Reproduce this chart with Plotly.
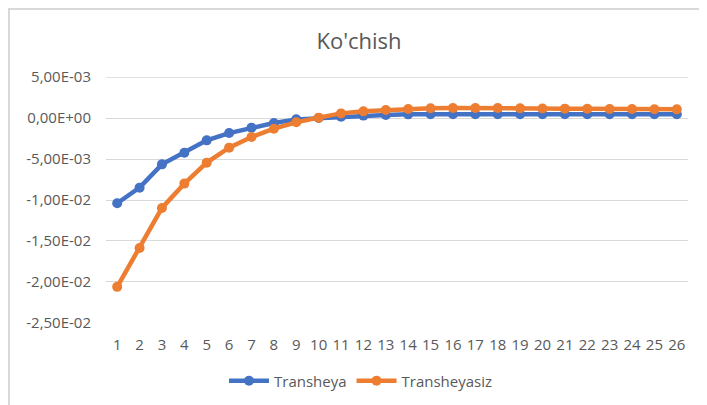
import plotly.graph_objects as go

categories = list(range(1, 27))
transheya = [-10.4e-3, -8.49e-3, -5.65e-3, -4.23e-3, -2.72e-3, -1.83e-3, -1.17e-3,
             -0.61e-3, -0.16e-3, 0.0, 0.17e-3, 0.30e-3, 0.37e-3, 0.45e-3, 0.46e-3,
             0.47e-3, 0.47e-3, 0.47e-3, 0.47e-3, 0.46e-3, 0.46e-3, 0.46e-3, 0.46e-3,
             0.46e-3, 0.46e-3, 0.46e-3]
transheyasiz = [-20.6e-3, -15.85e-3, -10.97e-3, -8.0e-3, -5.44e-3, -3.61e-3, -2.32e-3,
                -1.30e-3, -0.52e-3, 0.05e-3, 0.57e-3, 0.82e-3, 0.98e-3, 1.10e-3, 1.20e-3,
                1.22e-3, 1.23e-3, 1.22e-3, 1.20e-3, 1.17e-3, 1.15e-3, 1.13e-3, 1.11e-3,
                1.10e-3, 1.08e-3, 1.06e-3]
y_tickvals = [5e-3, 0.0, -5e-3, -1e-2, -1.5e-2, -2e-2, -2.5e-2]
y_ticktext = ["5,00E-03", "0,00E+00", "-5,00E-03", "-1,00E-02", "-1,50E-02", "-2,00E-02", "-2,50E-02"]

FONT = "Open Sans"
GREY = "#595959"
GRID = "#D9D9D9"
W, H = 707, 405
OFF = 8  # page body margin offset
# desired page-pixel plot box: left 106, right 688, top 77, bottom 323
L = 106 - OFF
T = 77 - OFF
R = W - (688 - OFF)
B = H - (323 - OFF)
pw, ph = W - L - R, H - T - B

def px_x(x):  # page px -> paper x
    return (x - OFF - L) / pw

def px_y(y):  # page px -> paper y
    return (H - B - (y - OFF)) / ph

fig = go.Figure()
fig.add_trace(go.Scatter(x=categories, y=transheya, name="Transheya", mode="lines+markers",
                         line=dict(color="#4472C4", width=4.5),
                         marker=dict(color="#4472C4", size=10)))
fig.add_trace(go.Scatter(x=categories, y=transheyasiz, name="Transheyasiz", mode="lines+markers",
                         line=dict(color="#ED7D31", width=4.5),
                         marker=dict(color="#ED7D31", size=10)))

fig.update_layout(
    width=W, height=H,
    margin=dict(l=L, r=R, t=T, b=B),
    paper_bgcolor="white", plot_bgcolor="white",
    font=dict(family=FONT, color=GREY, size=15),
    title=dict(text="Ko'chish", x=px_x(359), xref="paper", xanchor="center",
               y=1 - (41 - OFF) / H, yanchor="middle", font=dict(size=22, color=GREY, family=FONT)),
    showlegend=True,
    legend=dict(orientation="h", x=px_x(361), xanchor="center", y=px_y(381), yanchor="middle",
                font=dict(size=15, color=GREY, family=FONT), itemwidth=40, traceorder="normal",
                bgcolor="rgba(0,0,0,0)"),
    xaxis=dict(range=[0.5, 26.5], tickvals=categories, ticktext=[str(c) for c in categories],
               showgrid=False, zeroline=False, showline=False, ticks="",
               tickfont=dict(size=15, color=GREY), ticklabelstandoff=11, fixedrange=True),
    yaxis=dict(range=[-2.5e-2 - 1e-5, 5e-3 + 1e-5], tickvals=y_tickvals, ticktext=y_ticktext,
               showgrid=True, gridcolor=GRID, gridwidth=1.3, zeroline=False,
               showline=False, ticks="", tickfont=dict(size=15, color=GREY),
               ticklabelstandoff=14, fixedrange=True),
)

# top gridline (plotly drops the gridline sitting on the range edge)
fig.add_shape(type="line", xref="paper", yref="y", x0=0, x1=1,
              y0=y_tickvals[0], y1=y_tickvals[0],
              line=dict(color=GRID, width=1.3), layer="below")

fig.add_shape(type="rect", xref="paper", yref="paper",
              x0=px_x(9), x1=px_x(W + 20), y0=px_y(H + 20), y1=px_y(9),
              line=dict(color=GRID, width=2), fillcolor="rgba(0,0,0,0)", layer="below")

fig.write_html("out.html")
